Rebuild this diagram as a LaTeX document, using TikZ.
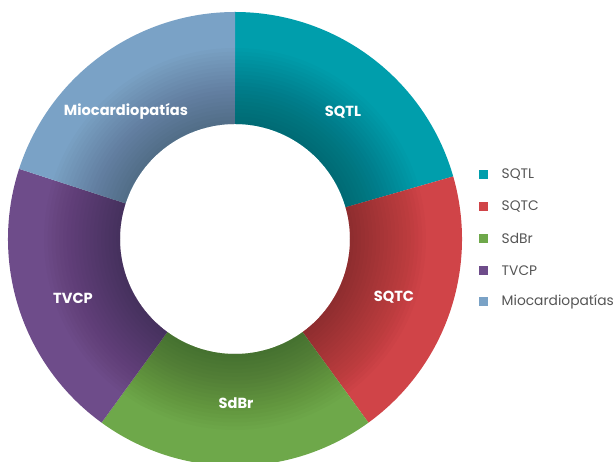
\documentclass[tikz,border=0pt]{standalone}
\usepackage{fontspec}
\setmainfont{Poppins}
\usepackage{tikz}
\usetikzlibrary{positioning}
\usepackage{xcolor}
\definecolor{sqtl}{RGB}{0,158,172}
\definecolor{sqtc}{RGB}{208,68,72}
\definecolor{sdbr}{RGB}{110,168,74}
\definecolor{tvcp}{RGB}{110,76,138}
\definecolor{mioc}{RGB}{122,162,198}
\definecolor{gray80}{RGB}{85,85,85}

\begin{document}
\begin{tikzpicture}[x=1pt, y=1pt,
    seglabel/.style={font=\bfseries\fontsize{14.6}{15}\selectfont, text=white},
    legbox/.style={fill=#1, minimum size=9pt, inner sep=0pt},
    legtext/.style={font=\fontsize{13.8}{14}\selectfont, text=gray80, anchor=west}]
    \useasboundingbox (0,0) rectangle (616,462);
    \coordinate (c) at (235,223);
    % ring segments
    \foreach \a/\b/\col in {90/16/sqtl, 16/-54/sqtc, -54/-126/sdbr,
                            -126/-198/tvcp, -198/-270/mioc}
      \fill[\col, shift={(c)}] (\a:227) arc[start angle=\a, end angle=\b, radius=227]
        -- (\b:115) arc[start angle=\b, end angle=\a, radius=115] -- cycle;
    % shadow towards the hole
    \foreach \k in {1,...,20}
      \fill[black, opacity=0.016, even odd rule]
        (c) circle (115) (c) circle ({115+3.8*\k});
    % segment labels
    \node[seglabel] (lsqtl) at (343,350) {SQTL};
    \node[seglabel] (lsqtc) at (394,165) {SQTC};
    \node[seglabel] (lsdbr) at (236,59) {SdBr};
    \node[seglabel] (ltvcp) at (73,164) {TVCP};
    \node[seglabel] (lmioc) at (126,351) {Miocardiopatías};
    % legend
    \node[legbox=sqtl] (k1) at (483.5,287) {};
    \node[legbox=sqtc] (k2) at (483.5,255.25) {};
    \node[legbox=sdbr] (k3) at (483.5,223.5) {};
    \node[legbox=tvcp] (k4) at (483.5,191.75) {};
    \node[legbox=mioc] (k5) at (483.5,160) {};
    \node[legtext, right=10pt of k1] (t1) {SQTL};
    \node[legtext, right=10pt of k2] (t2) {SQTC};
    \node[legtext, right=10pt of k3] (t3) {SdBr};
    \node[legtext, right=10pt of k4] (t4) {TVCP};
    \node[legtext, right=10pt of k5] (t5) {Miocardiopatías};
\end{tikzpicture}
\end{document}
